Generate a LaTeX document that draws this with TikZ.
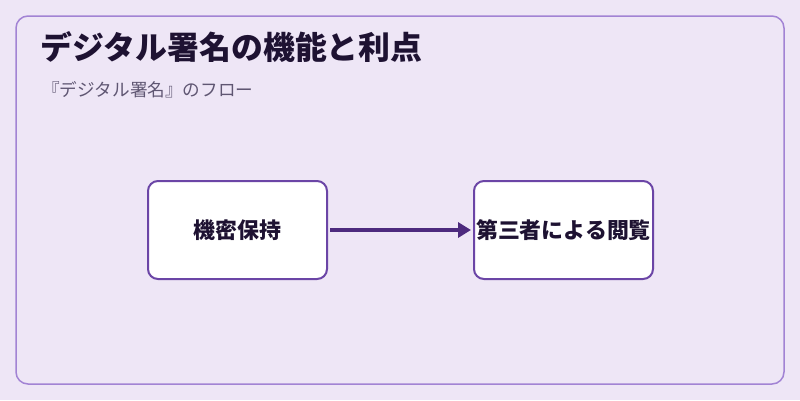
\documentclass[tikz,border=0pt]{standalone}
\usepackage{fontspec}
\setmainfont{Noto Sans CJK JP}
\usetikzlibrary{arrows.meta}
\definecolor{sigBg}{HTML}{EEE6F6}
\definecolor{sigFrame}{HTML}{A283D4}
\definecolor{sigEdge}{HTML}{6B45A6}
\definecolor{sigArrow}{HTML}{4D2A7E}
\definecolor{sigInk}{HTML}{1E1232}
\definecolor{sigMuted}{HTML}{5F5672}
\tikzset{
  frame/.style={draw=sigFrame,line width=1.5bp,rounded corners=12bp,fill=sigBg},
  stage/.style={rectangle,draw=sigEdge,fill=white,line width=2bp,rounded corners=10bp,
    minimum width=179bp,minimum height=98bp,inner sep=0pt,align=center,
    font=\fontsize{22}{26}\selectfont\bfseries,text=sigInk},
  heading/.style={anchor=west,inner sep=0pt,text=sigInk,font=\fontsize{32}{38}\selectfont\bfseries},
  subheading/.style={anchor=west,inner sep=0pt,text=sigMuted,font=\fontsize{17.7}{21}\selectfont},
  arrow/.style={-{Triangle[length=13bp,width=15bp]},line width=3.5bp,draw=sigArrow}
}
\begin{document}
\begin{tikzpicture}[x=1bp,y=-1bp]
\useasboundingbox (0,0) rectangle (800,400);
\fill[sigBg] (0,0) rectangle (800,400);
\draw[frame] (16,16) rectangle (784,384);

\node[heading] (title) at (40.5,47.5) {デジタル署名の機能と利点};
\node[subheading] (subtitle) at (42,90) {『デジタル署名』のフロー};

\node[stage] (secret) at (237.5,230) {機密保持};
\node[stage] (third) at (563.5,230) {第三者による閲覧};

\draw[arrow,shorten <=2bp,shorten >=2bp] (secret) -- (third);
\end{tikzpicture}
\end{document}
